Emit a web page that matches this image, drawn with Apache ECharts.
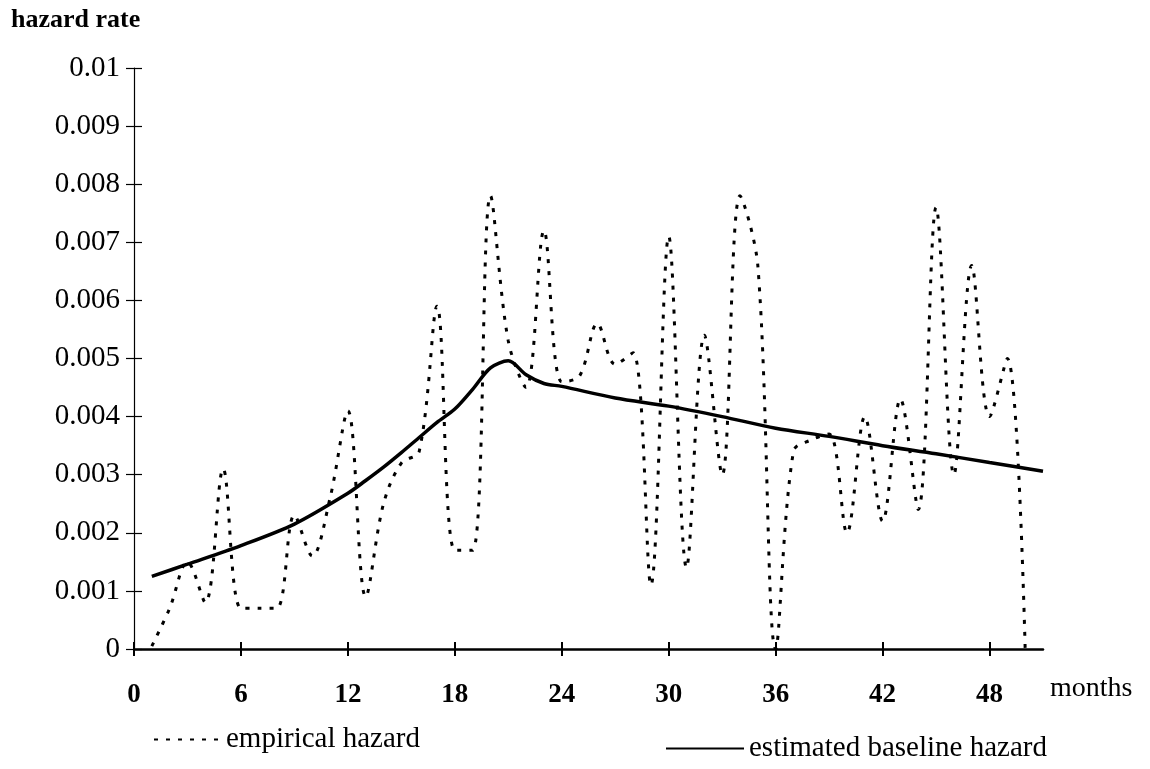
<!DOCTYPE html>
<html>
<head>
<meta charset="utf-8">
<title>hazard rate</title>
<script src="https://cdn.jsdelivr.net/npm/echarts@6/dist/echarts.min.js"></script>
<style>
  html, body { margin: 0; padding: 0; background: #ffffff; }
  #chart { width: 1150px; height: 769px; }
</style>
</head>
<body>
<div id="chart"></div>
<script>
// Monthly empirical hazard (months 1..50)
const months = [
  1, 2, 3, 4, 5, 6, 7, 8, 9, 10,
  11, 12, 13, 14, 15, 16, 17, 18, 19, 20,
  21, 22, 23, 24, 25, 26, 27, 28, 29, 30,
  31, 32, 33, 34, 35, 36, 37, 38, 39, 40,
  41, 42, 43, 44, 45, 46, 47, 48, 49, 50
];
const empiricalHazard = [
  0.00005, 0.0007, 0.0015, 0.0008, 0.0031, 0.0007, 0.0007, 0.0007, 0.0023, 0.0016,
  0.0026, 0.0041, 0.0009, 0.0025, 0.0032, 0.0034, 0.0059, 0.0017, 0.0017, 0.0078,
  0.0053, 0.0045, 0.0072, 0.0046, 0.0047, 0.0056, 0.0049, 0.0051, 0.0011, 0.0071,
  0.0014, 0.0054, 0.0030, 0.0078, 0.0066, 0.0000, 0.0034, 0.0036, 0.0037, 0.0020,
  0.0040, 0.0022, 0.0043, 0.0024, 0.0076, 0.0030, 0.0066, 0.0040, 0.0050, 0.0000
];

// Estimated baseline hazard
const baselineMonths = [
  1, 3, 6, 9, 12, 13, 14, 15, 16, 17, 18, 19, 20, 21,
  22, 23, 24, 27, 30, 33, 36, 39, 42, 45, 48, 51
];
const baselineHazard = [
  0.00125, 0.00146, 0.00178, 0.00215, 0.00268, 0.00290, 0.00313, 0.00338, 0.00364, 0.00390,
  0.00413, 0.00447, 0.00484, 0.00496, 0.00472, 0.00457, 0.00452, 0.00432, 0.00418, 0.00400,
  0.00380, 0.00366, 0.00350, 0.00336, 0.00321, 0.00306
];

// Axis ticks
const xTickValues = [0, 6, 12, 18, 24, 30, 36, 42, 48];
const xMax = 51;
const yMax = 0.01;
const yStep = 0.001;

const FONT = '"Liberation Serif", "Times New Roman", Times, serif';
const INK = '#000000';

const chart = echarts.init(document.getElementById('chart'), null, { renderer: 'canvas' });

const pairs = (xs, ys) => xs.map((x, i) => [x, ys[i]]);

const xAxisBase = {
  type: 'value',
  min: 0,
  max: xMax,
  position: 'bottom',
  splitLine: { show: false }
};
const yAxisBase = {
  type: 'value',
  min: 0,
  max: yMax,
  interval: yStep,
  position: 'left',
  splitLine: { show: false }
};

// legend entries show only the line sample, no marker
const legendCommon = {
  padding: 0,
  itemHeight: 14,
  selectedMode: false,
  itemStyle: { opacity: 0, color: 'rgba(0,0,0,0)', borderWidth: 0 },
  textStyle: { fontFamily: FONT, fontSize: 29, color: INK }
};

chart.setOption({
  animation: false,
  backgroundColor: '#ffffff',
  title: {
    text: 'hazard rate',
    left: 11,
    top: 7,
    padding: 0,
    textStyle: { fontFamily: FONT, fontSize: 26, fontWeight: 'bold', color: INK }
  },
  grid: { left: 134, right: 107, top: 68, bottom: 120 },
  xAxis: [
    Object.assign({}, xAxisBase, {
      axisLine: { show: true, onZero: false, lineStyle: { color: INK, width: 2.5 } },
      axisTick: { show: true, inside: false, length: 7, customValues: xTickValues,
                  lineStyle: { color: INK, width: 2 } },
      axisLabel: { show: true, customValues: xTickValues, margin: 33,
                   fontFamily: FONT, fontSize: 27, fontWeight: 'bold', color: INK }
    }),
    Object.assign({}, xAxisBase, {
      axisLine: { show: false },
      axisTick: { show: true, inside: true, length: 7, customValues: xTickValues,
                  lineStyle: { color: INK, width: 2 } },
      axisLabel: { show: false }
    })
  ],
  yAxis: [
    Object.assign({}, yAxisBase, {
      axisLine: { show: true, onZero: false, lineStyle: { color: INK, width: 1.2 } },
      axisTick: { show: true, inside: false, length: 8, lineStyle: { color: INK, width: 1.2 } },
      axisLabel: {
        show: true, margin: 14, fontFamily: FONT, fontSize: 29, color: INK,
        formatter: v => (v === 0 ? '0' : String(+v.toFixed(3)))
      }
    }),
    Object.assign({}, yAxisBase, {
      axisLine: { show: false },
      axisTick: { show: true, inside: true, length: 8, lineStyle: { color: INK, width: 1.2 } },
      axisLabel: { show: false }
    })
  ],
  legend: [
    Object.assign({}, legendCommon, {
      data: ['empirical hazard'],
      left: 153, top: 725,
      itemWidth: 67
    }),
    Object.assign({}, legendCommon, {
      data: ['estimated baseline hazard'],
      left: 665, top: 734,
      itemWidth: 78
    })
  ],
  graphic: [
    {
      type: 'text',
      left: 1050,
      top: 675,
      style: { text: 'months', font: '28px ' + FONT, fill: INK }
    }
  ],
  series: [
    {
      name: 'empirical hazard',
      type: 'line',
      xAxisIndex: 0,
      yAxisIndex: 0,
      data: pairs(months, empiricalHazard),
      smooth: 0.35,
      symbol: 'none',
      color: INK,
      lineStyle: { color: INK, width: 3, type: [4, 8], cap: 'butt' },
      z: 3
    },
    {
      name: 'estimated baseline hazard',
      type: 'line',
      xAxisIndex: 0,
      yAxisIndex: 0,
      data: pairs(baselineMonths, baselineHazard),
      smooth: 0.3,
      symbol: 'none',
      color: INK,
      lineStyle: { color: INK, width: 3.5 },
      z: 4
    }
  ]
});
</script>
</body>
</html>
